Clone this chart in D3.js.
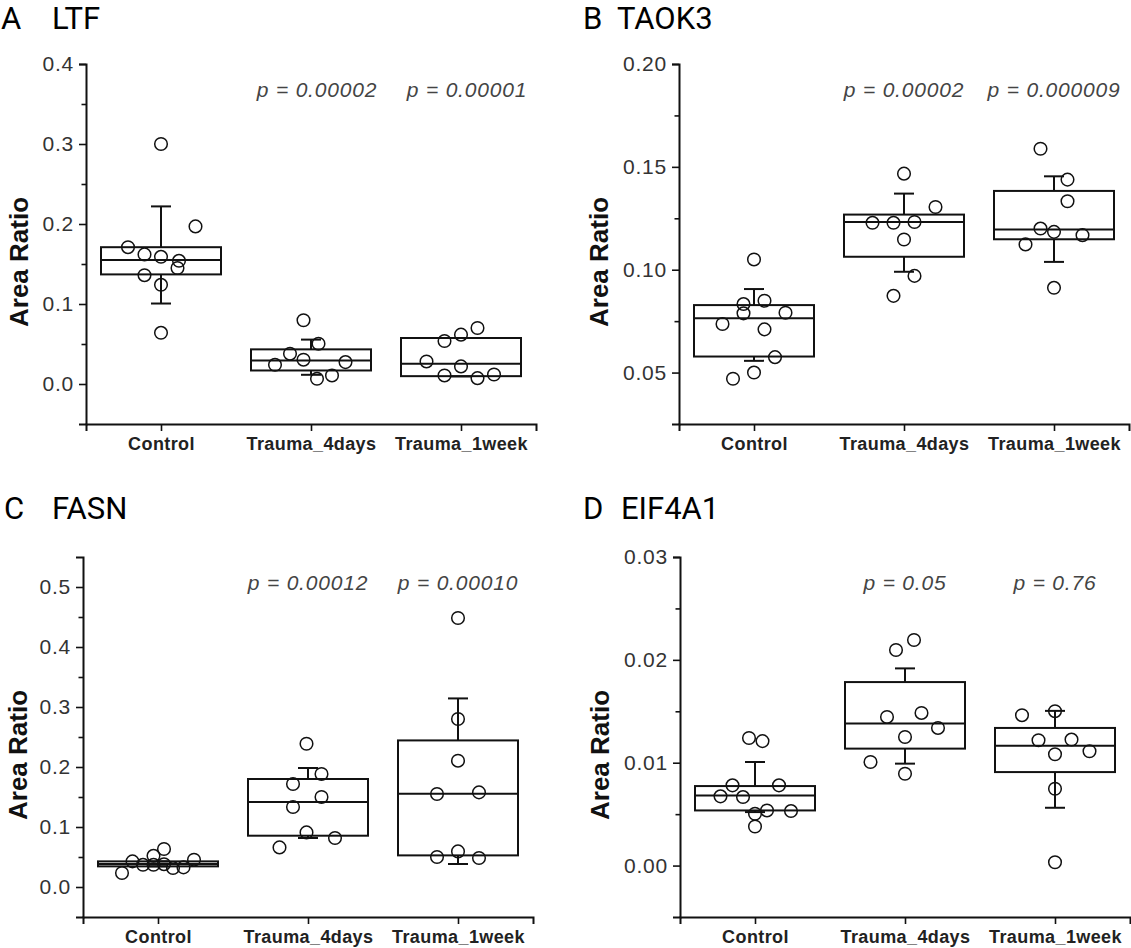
<!DOCTYPE html>
<html>
<head>
<meta charset="utf-8">
<script src="https://cdn.jsdelivr.net/npm/d3@7"></script>
<style>
body { margin: 0; background: #fff; }
svg text { font-family: "Liberation Sans", Arial, sans-serif; }
</style>
</head>
<body>
<svg id="chart" width="1131" height="948"></svg>
<script>
"use strict"

const categories = ["Control", "Trauma_4days", "Trauma_1week"]
const panelLetters = ["A", "B", "C", "D"]
const genes = ["LTF", "TAOK3", "FASN", "EIF4A1"]

const pLabels = [
    ["p = 0.00002", "p = 0.00001"],
    ["p = 0.00002", "p = 0.000009"],
    ["p = 0.00012", "p = 0.00010"],
    ["p = 0.05", "p = 0.76"],
]

const yDomains = [[-0.05, 0.4], [0.025, 0.2], [-0.05, 0.55], [-0.005, 0.03]]
const yMajorSteps = [0.1, 0.05, 0.1, 0.01]
const yFormats = [".1f", ".2f", ".1f", ".2f"]

// box stats per group: [q1, median, q3, whisker low, whisker high]
const ltfBoxes = [
    [0.137, 0.155, 0.171, 0.1006, 0.222],
    [0.0169, 0.0295, 0.0433, 0.0115, 0.0555],
    [0.0098, 0.0253, 0.0575, 0.0095, 0.0575],
]
const taok3Boxes = [
    [0.0578, 0.0764, 0.0828, 0.0557, 0.0906],
    [0.1063, 0.1232, 0.1268, 0.099, 0.137],
    [0.1148, 0.1195, 0.1383, 0.1038, 0.1454],
]
const fasnBoxes = [
    [0.0344, 0.0383, 0.0427, 0.0344, 0.0427],
    [0.0855, 0.1417, 0.18, 0.0817, 0.1983],
    [0.0527, 0.1555, 0.2443, 0.0383, 0.3143],
]
const eif4a1Boxes = [
    [0.00536, 0.00682, 0.00773, 0.0052, 0.01007],
    [0.01137, 0.01381, 0.01784, 0.00991, 0.01917],
    [0.00909, 0.01166, 0.01338, 0.00562, 0.01504],
]

// individual samples per group
const ltfValues = [
    [0.300, 0.197, 0.171, 0.162, 0.159, 0.154, 0.145, 0.136, 0.124, 0.064],
    [0.0797, 0.0504, 0.0379, 0.0304, 0.0274, 0.024, 0.0107, 0.0065],
    [0.070, 0.0617, 0.0537, 0.0282, 0.022, 0.0107, 0.0073, 0.0119],
]
const taok3Values = [
    [0.105, 0.0849, 0.0833, 0.0788, 0.0791, 0.0736, 0.0710, 0.0575, 0.050, 0.047],
    [0.1467, 0.1305, 0.1228, 0.1228, 0.1232, 0.1147, 0.097, 0.0873],
    [0.1588, 0.1438, 0.1333, 0.12, 0.1184, 0.1168, 0.1123, 0.0912],
]
const fasnValues = [
    [0.0633, 0.052, 0.0455, 0.0427, 0.037, 0.037, 0.038, 0.0317, 0.0327, 0.0233],
    [0.2388, 0.1883, 0.1717, 0.15, 0.1333, 0.091, 0.0817, 0.066],
    [0.4483, 0.28, 0.2105, 0.155, 0.1577, 0.0593, 0.05, 0.0483],
]
const eif4a1Values = [
    [0.0124, 0.0121, 0.0078, 0.0078, 0.00673, 0.00666, 0.00504, 0.00536, 0.0053, 0.0038],
    [0.02193, 0.02096, 0.01445, 0.01484, 0.01338, 0.0125, 0.01007, 0.00893],
    [0.01462, 0.01501, 0.01218, 0.01225, 0.01111, 0.01082, 0.00747, 0.00032],
]

// horizontal jitter of each sample, in category units
const ltfJitter = [
    [0, 0.23, -0.22, -0.11, 0, 0.12, 0.11, -0.11, 0, 0],
    [-0.05, 0.05, -0.14, -0.05, 0.23, -0.24, 0.14, 0.04],
    [0.11, 0, -0.11, -0.23, 0, -0.11, 0.11, 0.22],
]
const taok3Jitter = [
    [0, 0.07, -0.07, -0.07, 0.21, -0.21, 0.07, 0.14, 0, -0.14],
    [0, 0.21, -0.21, -0.07, 0.07, 0, 0.07, -0.07],
    [-0.09, 0.09, 0.09, -0.09, 0, 0.19, -0.19, 0],
]
const fasnJitter = [
    [0.04, -0.03, 0.24, -0.17, -0.10, -0.03, 0.04, 0.10, 0.17, -0.24],
    [-0.01, 0.09, -0.10, 0.09, -0.10, -0.01, 0.18, -0.19],
    [0, 0, 0, -0.14, 0.14, 0, -0.14, 0.14],
]
const eif4a1Jitter = [
    [-0.04, 0.05, -0.15, 0.16, -0.23, -0.08, 0, 0.08, 0.24, 0],
    [0.06, -0.06, -0.12, 0.11, 0.22, 0, -0.23, 0],
    [-0.22, 0, -0.11, 0.11, 0.23, 0, 0, 0],
]

const allBoxes = [ltfBoxes, taok3Boxes, fasnBoxes, eif4a1Boxes]
const allValues = [ltfValues, taok3Values, fasnValues, eif4a1Values]
const allJitter = [ltfJitter, taok3Jitter, fasnJitter, eif4a1Jitter]

// layout of the four panels
const frames = [
    { left: 86, top: 64, letterX: 1, nameX: 52, titleY: 29, labelX: 28, pShift: 6 },
    { left: 679, top: 64, letterX: 583, nameX: 617, titleY: 29, labelX: 608, pShift: 0 },
    { left: 83, top: 557, letterX: 4, nameX: 52, titleY: 519, labelX: 27, pShift: 0 },
    { left: 680, top: 557, letterX: 583, nameX: 621, titleY: 519, labelX: 609, pShift: 0 },
]

const W = 450, H = 360

const svg = d3.select("#chart")
svg.append("rect").attr("width", 1131).attr("height", 948).attr("fill", "#fff")

function stepTicks(domain, step) {
    const k0 = Math.ceil(domain[0] / step - 1e-9)
    const k1 = Math.floor(domain[1] / step + 1e-9)
    return d3.range(k0, k1 + 1).map(k => +(k * step).toFixed(6))
}

frames.forEach(function (f, i) {

    // title
    svg.append("text")
        .attr("x", f.letterX).attr("y", f.titleY)
        .style("font-family", "Roboto, sans-serif")
        .style("font-size", "31px")
        .attr("fill", "#000")
        .text(panelLetters[i])
    svg.append("text")
        .attr("x", f.nameX).attr("y", f.titleY)
        .style("font-family", "Roboto, sans-serif")
        .style("font-size", "31px")
        .attr("fill", "#000")
        .text(genes[i])

    // y label
    svg.append("text")
        .attr("transform", `translate(${f.labelX},${f.top + H * 0.55}) rotate(-90)`)
        .attr("text-anchor", "middle")
        .style("font-size", "26px")
        .style("font-weight", "bold")
        .attr("fill", "#111")
        .text("Area Ratio")

    const g = svg.append("g").attr("transform", `translate(${f.left},${f.top})`)

    const x = d3.scaleLinear().domain([-0.5, 2.5]).range([0, W])
    const y = d3.scaleLinear().domain(yDomains[i]).range([H, 0])

    const major = stepTicks(yDomains[i], yMajorSteps[i])
    const minor = stepTicks(yDomains[i], yMajorSteps[i] / 2)
        .filter(v => !major.some(m => Math.abs(m - v) < 1e-9))
        .filter(v => v > yDomains[i][0] + 1e-9 && v < yDomains[i][1] - 1e-9)

    // y axis
    const yAxis = g.append("g")
        .call(d3.axisLeft(y).tickValues(major).tickFormat(d3.format(yFormats[i]))
            .tickSizeOuter(0).tickSize(7).tickPadding(5))
    yAxis.select(".domain").attr("stroke", "#111").attr("stroke-width", 2)
    yAxis.selectAll(".tick line").attr("stroke", "#111").attr("stroke-width", 1.6)
    yAxis.selectAll(".tick text")
        .style("font-size", "21px")
        .style("letter-spacing", "0.8px")
        .attr("fill", "#333")

    const yMinor = g.append("g")
        .call(d3.axisLeft(y).tickValues(minor).tickFormat("").tickSizeOuter(0).tickSize(4.5))
    yMinor.select(".domain").remove()
    yMinor.selectAll(".tick line").attr("stroke", "#111").attr("stroke-width", 1.6)

    // x axis
    const xAxis = g.append("g")
        .attr("transform", `translate(0,${H})`)
        .call(d3.axisBottom(x).tickValues([0, 1, 2]).tickFormat(d => categories[d])
            .tickSizeOuter(0).tickSize(7))
    xAxis.select(".domain").attr("stroke", "#111").attr("stroke-width", 2)
    xAxis.selectAll(".tick line").attr("stroke", "#111").attr("stroke-width", 1.6)
    xAxis.selectAll(".tick text")
        .attr("y", 26).attr("dy", 0)
        .style("font-size", "18px")
        .style("font-weight", "bold")
        .style("letter-spacing", "0.4px")
        .attr("fill", "#222")

    // boxes
    allBoxes[i].forEach(function (b, j) {
        const [q1, med, q3, lo, hi] = b
        const cx = x(j)
        const grp = g.append("g")

        grp.append("line")
            .attr("x1", cx).attr("x2", cx).attr("y1", y(q3)).attr("y2", y(hi))
        grp.append("line")
            .attr("x1", cx - 10).attr("x2", cx + 10).attr("y1", y(hi)).attr("y2", y(hi))
        grp.append("line")
            .attr("x1", cx).attr("x2", cx).attr("y1", y(q1)).attr("y2", y(lo))
        grp.append("line")
            .attr("x1", cx - 10).attr("x2", cx + 10).attr("y1", y(lo)).attr("y2", y(lo))

        grp.append("rect")
            .attr("x", x(j - 0.4)).attr("width", x(j + 0.4) - x(j - 0.4))
            .attr("y", y(q3)).attr("height", y(q1) - y(q3))
            .attr("fill", "none")
        grp.append("line")
            .attr("x1", x(j - 0.4)).attr("x2", x(j + 0.4))
            .attr("y1", y(med)).attr("y2", y(med))

        grp.selectAll("line, rect").attr("stroke", "#111").attr("stroke-width", 2)
    })

    // samples
    allValues[i].forEach(function (vals, j) {
        g.append("g").selectAll("circle")
            .data(vals.map((v, k) => ({ v: v, dx: allJitter[i][j][k] })))
            .join("circle")
            .attr("cx", d => x(j + d.dx))
            .attr("cy", d => y(d.v))
            .attr("r", 6.3)
            .attr("fill", "none")
            .attr("stroke", "#111")
            .attr("stroke-width", 1.5)
    })

    // p values
    pLabels[i].forEach(function (t, k) {
        g.append("text")
            .attr("x", x(k + 1) + f.pShift).attr("y", 33)
            .attr("text-anchor", "middle")
            .style("font-size", "21px")
            .style("font-style", "italic")
            .style("letter-spacing", "0.8px")
            .attr("fill", "#444")
            .text(t)
    })
})
</script>
</body>
</html>
